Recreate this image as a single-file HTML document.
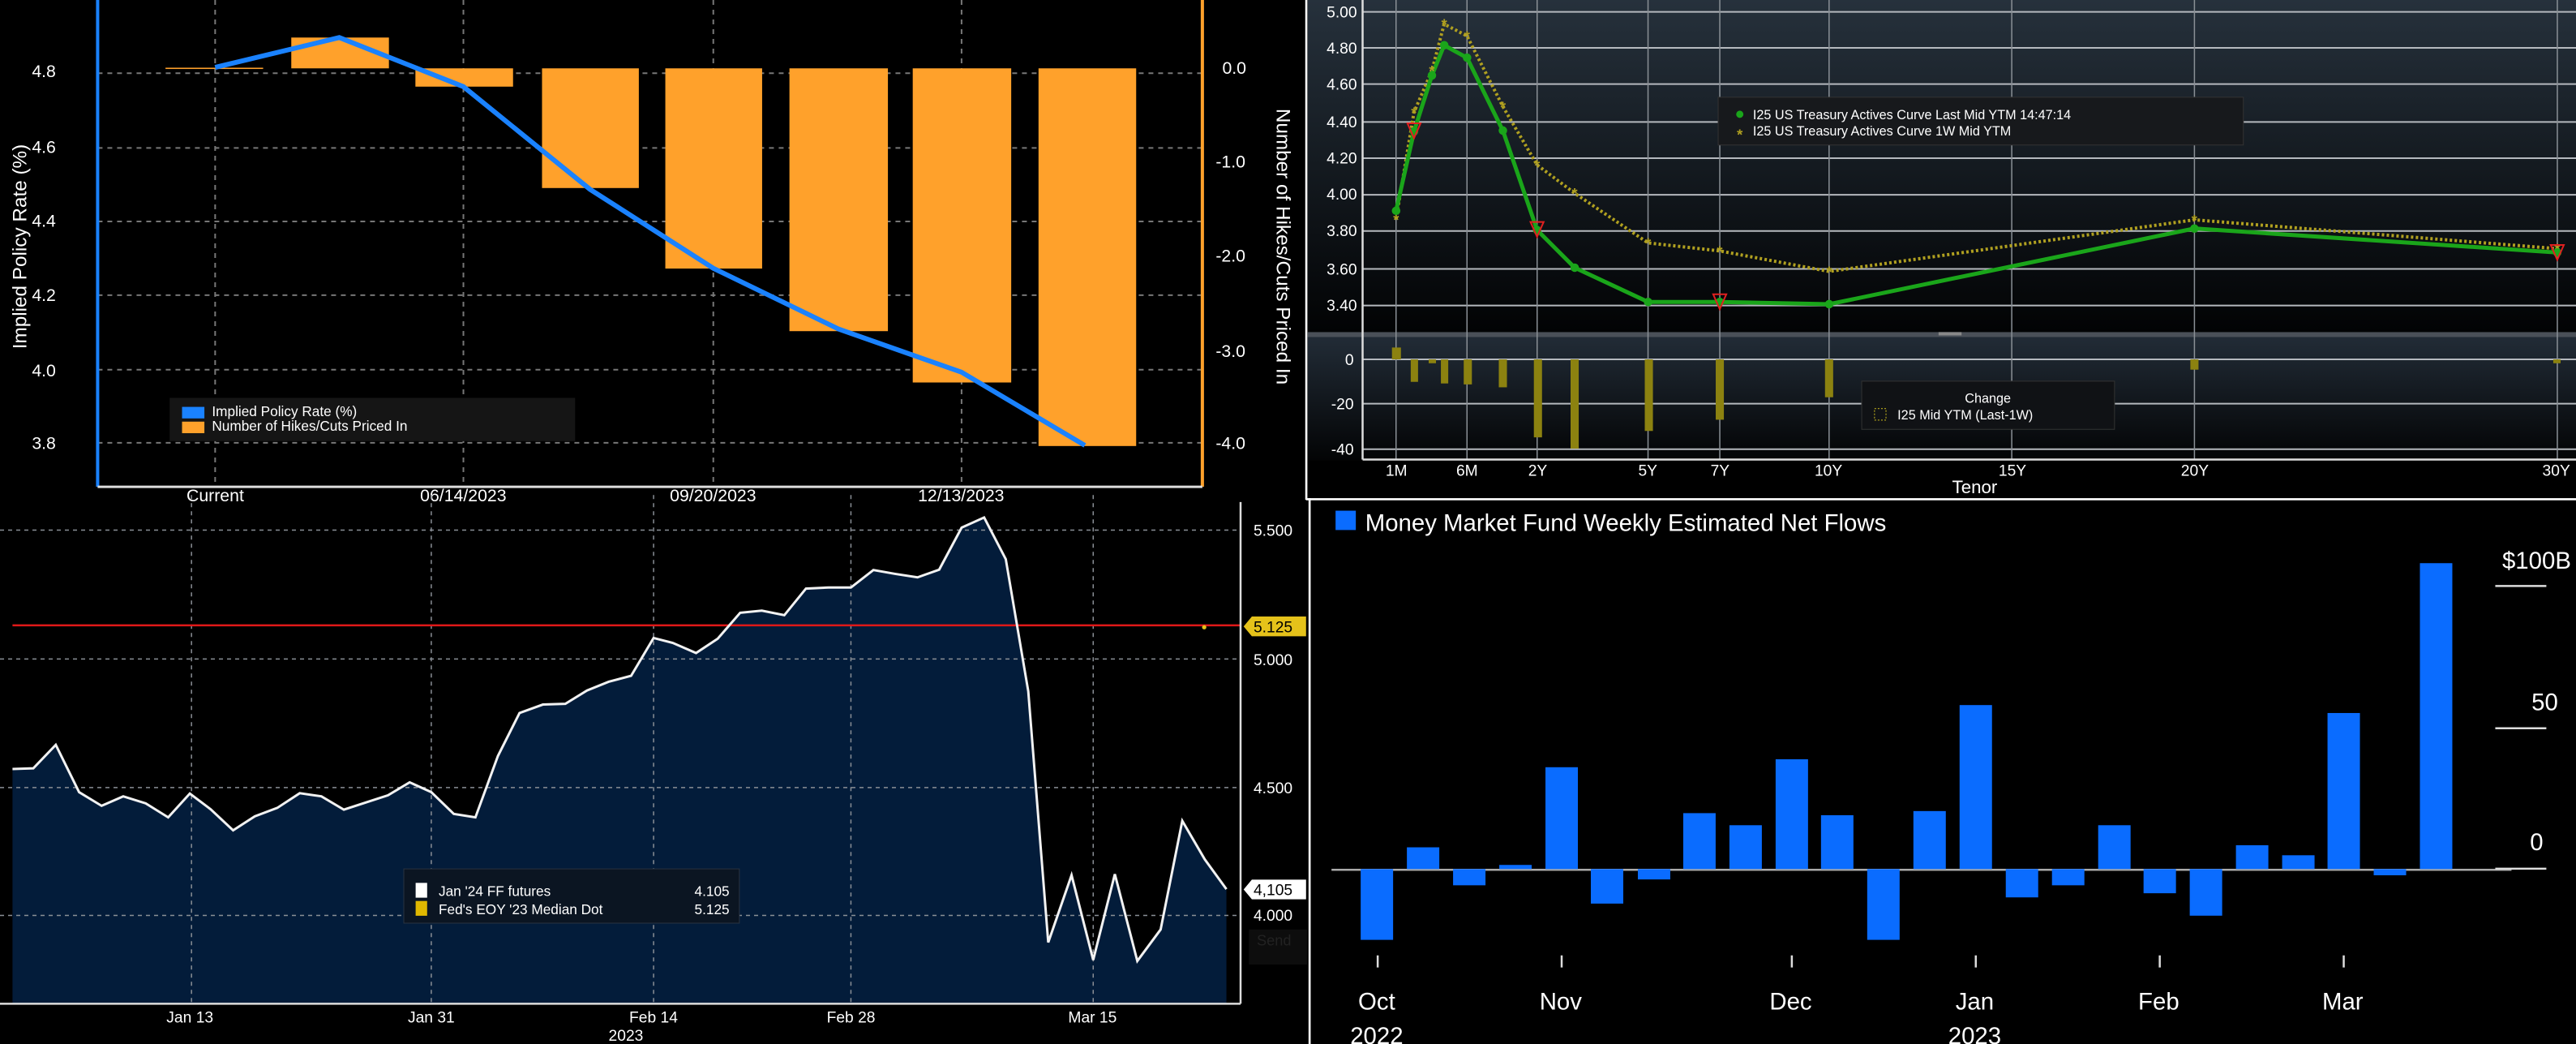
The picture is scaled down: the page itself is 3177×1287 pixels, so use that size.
<!DOCTYPE html>
<html><head><meta charset="utf-8"><style>
html,body{margin:0;padding:0;background:#000;}
svg{display:block;}
text{font-family:"Liberation Sans Narrow","Liberation Sans",sans-serif;}
</style></head><body>
<svg width="3177" height="1287" viewBox="0 0 1568 635" preserveAspectRatio="none" xmlns="http://www.w3.org/2000/svg">
<defs>
<linearGradient id="g1" x1="0" y1="0" x2="0" y2="1"><stop offset="0" stop-color="#26313c"/><stop offset="1" stop-color="#020304"/></linearGradient>
<linearGradient id="g2" x1="0" y1="0" x2="0" y2="1"><stop offset="0" stop-color="#222c37"/><stop offset="1" stop-color="#030405"/></linearGradient>
</defs>
<rect x="0" y="0" width="1568" height="635" fill="#000"/>

<!-- ============ TOP LEFT ============ -->
<g transform="scale(0.5037,0.19517)">
  <g stroke="#777" stroke-width="2" stroke-dasharray="6,6" vector-effect="non-scaling-stroke" fill="none">
    <line x1="118" y1="228" x2="1453" y2="228" vector-effect="non-scaling-stroke"/>
    <line x1="118" y1="461" x2="1453" y2="461" vector-effect="non-scaling-stroke"/>
    <line x1="118" y1="690" x2="1453" y2="690" vector-effect="non-scaling-stroke"/>
    <line x1="118" y1="920" x2="1453" y2="920" vector-effect="non-scaling-stroke"/>
    <line x1="118" y1="1152" x2="1453" y2="1152" vector-effect="non-scaling-stroke"/>
    <line x1="118" y1="1380" x2="1453" y2="1380" vector-effect="non-scaling-stroke"/>
    <line x1="260" y1="0" x2="260" y2="1517" vector-effect="non-scaling-stroke"/>
    <line x1="560" y1="0" x2="560" y2="1517" vector-effect="non-scaling-stroke"/>
    <line x1="862" y1="0" x2="862" y2="1517" vector-effect="non-scaling-stroke"/>
    <line x1="1162" y1="0" x2="1162" y2="1517" vector-effect="non-scaling-stroke"/>
  </g>
  <g fill="#ffa12b">
    <rect x="200" y="211" width="118" height="4"/>
    <rect x="352" y="117" width="118" height="96"/>
    <rect x="502" y="213" width="118" height="57"/>
    <rect x="655" y="213" width="117" height="373"/>
    <rect x="804" y="213" width="117" height="624"/>
    <rect x="954" y="213" width="119" height="819"/>
    <rect x="1103" y="213" width="119" height="979"/>
    <rect x="1255" y="213" width="118" height="1177"/>
  </g>
  <polyline points="260,210 410,117 560,270 713,590 862,836 1013,1025 1162,1160 1311,1388" fill="none" stroke="#1a82ff" stroke-width="6" vector-effect="non-scaling-stroke"/>
  <line x1="118" y1="0" x2="118" y2="1517" stroke="#1a82ff" stroke-width="4" vector-effect="non-scaling-stroke"/>
  <line x1="1453" y1="0" x2="1453" y2="1517" stroke="#ffa12b" stroke-width="4" vector-effect="non-scaling-stroke"/>
  <line x1="118" y1="1517" x2="1453" y2="1517" stroke="#ddd" stroke-width="3" vector-effect="non-scaling-stroke"/>
  <rect x="205" y="1240" width="490" height="135" fill="#151515"/>
  <rect x="220" y="1268" width="27" height="36" fill="#1a82ff"/>
  <rect x="220" y="1314" width="27" height="36" fill="#ffa12b"/>
</g>
<g fill="#fff" font-size="10.5">
  <text x="34" y="47" text-anchor="end">4.8</text>
  <text x="34" y="93" text-anchor="end">4.6</text>
  <text x="34" y="138" text-anchor="end">4.4</text>
  <text x="34" y="183" text-anchor="end">4.2</text>
  <text x="34" y="229" text-anchor="end">4.0</text>
  <text x="34" y="273" text-anchor="end">3.8</text>
  <text x="744" y="45">0.0</text>
  <text x="740" y="102">-1.0</text>
  <text x="740" y="159">-2.0</text>
  <text x="740" y="217">-3.0</text>
  <text x="740" y="273">-4.0</text>
  <text x="131" y="305" text-anchor="middle">Current</text>
  <text x="282" y="305" text-anchor="middle">06/14/2023</text>
  <text x="434" y="305" text-anchor="middle">09/20/2023</text>
  <text x="585" y="305" text-anchor="middle">12/13/2023</text>
  <text x="0" y="0" transform="translate(16,150) rotate(-90)" text-anchor="middle" font-size="12">Implied Policy Rate (%)</text>
  <text x="0" y="0" transform="translate(777,150) rotate(90)" text-anchor="middle" font-size="12">Number of Hikes/Cuts Priced In</text>
  <text x="129" y="253" font-size="8.5">Implied Policy Rate (%)</text>
  <text x="129" y="262" font-size="8.5">Number of Hikes/Cuts Priced In</text>
</g>

<!-- ============ TOP RIGHT ============ -->
<rect x="796" y="0" width="772" height="202" fill="url(#g1)"/>
<rect x="796" y="204" width="772" height="76" fill="url(#g2)"/>
<rect x="796" y="202" width="772" height="3" fill="#4a5058"/>
<rect x="1180" y="202" width="14" height="2" fill="#888"/>
<g transform="translate(789.7,0) scale(0.4964,0.19517)">
  <g stroke="#b5b9be" stroke-width="2" vector-effect="non-scaling-stroke">
    <line x1="80" y1="37" x2="1577" y2="37" vector-effect="non-scaling-stroke"/>
    <line x1="80" y1="149" x2="1577" y2="149" vector-effect="non-scaling-stroke"/>
    <line x1="80" y1="262" x2="1577" y2="262" vector-effect="non-scaling-stroke"/>
    <line x1="80" y1="380" x2="1577" y2="380" vector-effect="non-scaling-stroke"/>
    <line x1="80" y1="493" x2="1577" y2="493" vector-effect="non-scaling-stroke"/>
    <line x1="80" y1="607" x2="1577" y2="607" vector-effect="non-scaling-stroke"/>
    <line x1="80" y1="720" x2="1577" y2="720" vector-effect="non-scaling-stroke"/>
    <line x1="80" y1="838" x2="1577" y2="838" vector-effect="non-scaling-stroke"/>
    <line x1="80" y1="952" x2="1577" y2="952" vector-effect="non-scaling-stroke"/>
    <line x1="80" y1="1120" x2="1577" y2="1120" vector-effect="non-scaling-stroke"/>
    <line x1="80" y1="1258" x2="1577" y2="1258" vector-effect="non-scaling-stroke"/>
    <line x1="80" y1="1400" x2="1577" y2="1400" vector-effect="non-scaling-stroke"/>
  </g>
  <g stroke="#8a9096" stroke-width="1.5" vector-effect="non-scaling-stroke">
    <line x1="121" y1="0" x2="121" y2="1432" vector-effect="non-scaling-stroke"/>
    <line x1="208" y1="0" x2="208" y2="1432" vector-effect="non-scaling-stroke"/>
    <line x1="294" y1="0" x2="294" y2="1432" vector-effect="non-scaling-stroke"/>
    <line x1="430" y1="0" x2="430" y2="1432" vector-effect="non-scaling-stroke"/>
    <line x1="518" y1="0" x2="518" y2="1432" vector-effect="non-scaling-stroke"/>
    <line x1="652" y1="0" x2="652" y2="1432" vector-effect="non-scaling-stroke"/>
    <line x1="876" y1="0" x2="876" y2="1432" vector-effect="non-scaling-stroke"/>
    <line x1="1100" y1="0" x2="1100" y2="1432" vector-effect="non-scaling-stroke"/>
    <line x1="1545" y1="0" x2="1545" y2="1432" vector-effect="non-scaling-stroke"/>
  </g>
  <polyline points="121,683 143,350 165,220 180,75 208,112 252,332 294,514 340,602 430,757 518,782 652,846 1100,685 1545,775" fill="none" stroke="#b0a020" stroke-width="4" stroke-dasharray="3,3" vector-effect="non-scaling-stroke"/>
  <polyline points="121,657 143,410 165,235 180,141 208,180 252,407 294,717 340,834 430,941 518,941 652,948 1100,712 1545,787" fill="none" stroke="#1aa51a" stroke-width="5" vector-effect="non-scaling-stroke"/>
  <g fill="#8c8210">
    <rect x="116" y="1083" width="11" height="37"/>
    <rect x="139" y="1120" width="9" height="70"/>
    <rect x="161" y="1120" width="9" height="12"/>
    <rect x="176" y="1120" width="9" height="75"/>
    <rect x="204" y="1120" width="10" height="78"/>
    <rect x="247" y="1120" width="10" height="87"/>
    <rect x="290" y="1120" width="10" height="243"/>
    <rect x="335" y="1120" width="10" height="278"/>
    <rect x="426" y="1120" width="10" height="223"/>
    <rect x="513" y="1120" width="10" height="188"/>
    <rect x="647" y="1120" width="10" height="118"/>
    <rect x="1095" y="1120" width="10" height="32"/>
    <rect x="1540" y="1120" width="9" height="12"/>
  </g>
  <line x1="80" y1="0" x2="80" y2="1432" stroke="#ddd" stroke-width="2.5" vector-effect="non-scaling-stroke"/>
  <line x1="80" y1="1432" x2="1577" y2="1432" stroke="#ddd" stroke-width="2.5" vector-effect="non-scaling-stroke"/>
  <rect x="516" y="303" width="644" height="149" fill="#17191c" stroke="#333" vector-effect="non-scaling-stroke"/>
  <rect x="692" y="1188" width="310" height="150" fill="#101215" stroke="#333" vector-effect="non-scaling-stroke"/>
</g>
<g fill="#b0a020" font-size="9" text-anchor="middle" font-weight="bold">
  <text x="849.8" y="136.8">*</text><text x="860.7" y="71.8">*</text><text x="871.6" y="46.4">*</text><text x="879.1" y="18.1">*</text><text x="893" y="25.4">*</text><text x="914.8" y="68.3">*</text><text x="935.6" y="103.8">*</text><text x="958.5" y="121">*</text><text x="1003.2" y="151.2">*</text><text x="1046.8" y="156.1">*</text><text x="1113.4" y="168.6">*</text><text x="1335.7" y="137.2">*</text><text x="1556.6" y="154.8">*</text>
  <text x="1059" y="85">*</text>
</g>
<g fill="#1aa51a">
  <circle cx="849.8" cy="128.2" r="2.6"/><circle cx="860.7" cy="80" r="2.6"/><circle cx="871.6" cy="45.9" r="2.6"/><circle cx="879.1" cy="27.5" r="2.6"/><circle cx="893" cy="35.1" r="2.6"/><circle cx="914.8" cy="79.4" r="2.6"/><circle cx="935.6" cy="139.9" r="2.6"/><circle cx="958.5" cy="162.8" r="2.6"/><circle cx="1003.2" cy="183.7" r="2.6"/><circle cx="1046.8" cy="183.7" r="2.6"/><circle cx="1113.4" cy="185" r="2.6"/><circle cx="1335.7" cy="139" r="2.6"/><circle cx="1556.6" cy="153.6" r="2.6"/>
  <circle cx="1059" cy="69.5" r="2.2"/>
</g>
<g fill="none" stroke="#e02020" stroke-width="1">
  <path d="M856.7,75 L864.7,75 L860.7,84 Z"/>
  <path d="M931.6,135 L939.6,135 L935.6,144 Z"/>
  <path d="M1042.8,179 L1050.8,179 L1046.8,188 Z"/>
  <path d="M1552.6,149 L1560.6,149 L1556.6,158 Z"/>
</g>
<g fill="#fff" font-size="9.5">
  <text x="826" y="10.5" text-anchor="end">5.00</text>
  <text x="826" y="32.5" text-anchor="end">4.80</text>
  <text x="826" y="54.5" text-anchor="end">4.60</text>
  <text x="826" y="77.5" text-anchor="end">4.40</text>
  <text x="826" y="99.5" text-anchor="end">4.20</text>
  <text x="826" y="121.5" text-anchor="end">4.00</text>
  <text x="826" y="143.5" text-anchor="end">3.80</text>
  <text x="826" y="167" text-anchor="end">3.60</text>
  <text x="826" y="189" text-anchor="end">3.40</text>
  <text x="824" y="222" text-anchor="end">0</text>
  <text x="824" y="249" text-anchor="end">-20</text>
  <text x="824" y="276.5" text-anchor="end">-40</text>
  <text x="850" y="289.5" text-anchor="middle">1M</text>
  <text x="893" y="289.5" text-anchor="middle">6M</text>
  <text x="936" y="289.5" text-anchor="middle">2Y</text>
  <text x="1003" y="289.5" text-anchor="middle">5Y</text>
  <text x="1047" y="289.5" text-anchor="middle">7Y</text>
  <text x="1113" y="289.5" text-anchor="middle">10Y</text>
  <text x="1225" y="289.5" text-anchor="middle">15Y</text>
  <text x="1336" y="289.5" text-anchor="middle">20Y</text>
  <text x="1556" y="289.5" text-anchor="middle">30Y</text>
  <text x="1202" y="300" text-anchor="middle" font-size="11">Tenor</text>
  <text x="1067" y="72.5" font-size="8">I25 US Treasury Actives Curve Last Mid YTM 14:47:14</text>
  <text x="1067" y="82.5" font-size="8">I25 US Treasury Actives Curve 1W Mid YTM</text>
  <text x="1210" y="245" text-anchor="middle" font-size="8">Change</text>
  <text x="1155" y="255" font-size="8">I25 Mid YTM (Last-1W)</text>
</g>
<rect x="1141" y="248.5" width="7" height="7" fill="none" stroke="#a89a1c" stroke-width="0.6" stroke-dasharray="1,1"/>

<!-- ============ BOTTOM LEFT ============ -->
<g transform="translate(0,301.1) scale(0.5068,0.2131)">
  <polygon points="15,782 40,780 67,713 95,848 122,887 148,860 175,880 202,920 228,852 253,897 280,957 306,917 333,893 360,851 386,860 413,898 440,877 466,857 492,820 518,848 545,910 571,920 598,745 624,622 652,598 679,596 705,558 731,533 758,516 785,408 808,422 836,451 862,410 889,336 915,330 942,343 968,267 995,264 1022,264 1049,214 1075,225 1102,235 1128,213 1155,93 1182,64 1208,183 1235,560 1259,1277 1287,1085 1313,1327 1339,1082 1366,1330 1394,1240 1420,930 1447,1040 1473,1125 1473,1452 15,1452" fill="#031c3a"/>
  <g stroke="#8a8f96" stroke-width="1.5" stroke-dasharray="5,5" vector-effect="non-scaling-stroke">
    <line x1="0" y1="100" x2="1490" y2="100" vector-effect="non-scaling-stroke"/>
    <line x1="0" y1="468" x2="1490" y2="468" vector-effect="non-scaling-stroke"/>
    <line x1="0" y1="835" x2="1490" y2="835" vector-effect="non-scaling-stroke"/>
    <line x1="0" y1="1200" x2="1490" y2="1200" vector-effect="non-scaling-stroke"/>
    <line x1="230" y1="0" x2="230" y2="1452" vector-effect="non-scaling-stroke"/>
    <line x1="518" y1="0" x2="518" y2="1452" vector-effect="non-scaling-stroke"/>
    <line x1="785" y1="0" x2="785" y2="1452" vector-effect="non-scaling-stroke"/>
    <line x1="1022" y1="0" x2="1022" y2="1452" vector-effect="non-scaling-stroke"/>
    <line x1="1313" y1="0" x2="1313" y2="1452" vector-effect="non-scaling-stroke"/>
  </g>
  <line x1="15" y1="372" x2="1490" y2="372" stroke="#e01818" stroke-width="2.5" vector-effect="non-scaling-stroke"/>
  <polyline points="15,782 40,780 67,713 95,848 122,887 148,860 175,880 202,920 228,852 253,897 280,957 306,917 333,893 360,851 386,860 413,898 440,877 466,857 492,820 518,848 545,910 571,920 598,745 624,622 652,598 679,596 705,558 731,533 758,516 785,408 808,422 836,451 862,410 889,336 915,330 942,343 968,267 995,264 1022,264 1049,214 1075,225 1102,235 1128,213 1155,93 1182,64 1208,183 1235,560 1259,1277 1287,1085 1313,1327 1339,1082 1366,1330 1394,1240 1420,930 1447,1040 1473,1125" fill="none" stroke="#f2f2f2" stroke-width="3" vector-effect="non-scaling-stroke"/>
  <line x1="1490" y1="20" x2="1490" y2="1452" stroke="#ddd" stroke-width="2.5" vector-effect="non-scaling-stroke"/>
  <line x1="0" y1="1452" x2="1490" y2="1452" stroke="#ddd" stroke-width="2.5" vector-effect="non-scaling-stroke"/>
  <rect x="485" y="1067" width="403" height="155" fill="#0b1522" stroke="#2a3340" vector-effect="non-scaling-stroke"/>
  <rect x="1500" y="1240" width="70" height="100" fill="#0d0d0d"/>
</g>
<g fill="#fff" font-size="9.5">
  <text x="763" y="326">5.500</text>
  <text x="763" y="404.5">5.000</text>
  <text x="763" y="482.5">4.500</text>
  <text x="763" y="560">4.000</text>
  <text x="115.6" y="622" text-anchor="middle">Jan 13</text>
  <text x="262.5" y="622" text-anchor="middle">Jan 31</text>
  <text x="397.8" y="622" text-anchor="middle">Feb 14</text>
  <text x="518" y="622" text-anchor="middle">Feb 28</text>
  <text x="665" y="622" text-anchor="middle">Mar 15</text>
  <text x="381" y="633" text-anchor="middle">2023</text>
  <text x="267" y="545" font-size="8.5">Jan '24 FF futures</text>
  <text x="267" y="556" font-size="8.5">Fed's EOY '23 Median Dot</text>
  <text x="444" y="545" font-size="8.5" text-anchor="end">4.105</text>
  <text x="444" y="556" font-size="8.5" text-anchor="end">5.125</text>
</g>
<rect x="253" y="537" width="7" height="9" fill="#fff"/>
<rect x="253" y="548" width="7" height="9" fill="#e0b800"/>
<path d="M757,381 L762,375 L795,375 L795,387 L762,387 Z" fill="#e5c21a"/>
<text x="763" y="384.5" font-size="9.5" fill="#000">5.125</text>
<circle cx="733" cy="381.5" r="1.3" fill="#e5c21a"/>
<path d="M757,541 L762,535 L795,535 L795,547 L762,547 Z" fill="#fff"/>
<text x="763" y="544.5" font-size="9.5" fill="#000">4,105</text>
<text x="765" y="575" font-size="9" fill="#222">Send</text>

<!-- ============ BOTTOM RIGHT ============ -->
<g transform="translate(794.7,306) scale(0.4933,0.21)">
  <line x1="32" y1="1062" x2="1488" y2="1062" stroke="#aaa" stroke-width="2.5" vector-effect="non-scaling-stroke"/>
  <g fill="#0a6cff">
    <rect x="68" y="1060" width="40" height="205"/>
    <rect x="125" y="997" width="40" height="63"/>
    <rect x="182" y="1060" width="40" height="47"/>
    <rect x="239" y="1048" width="40" height="12"/>
    <rect x="296" y="765" width="40" height="295"/>
    <rect x="352" y="1060" width="40" height="100"/>
    <rect x="410" y="1060" width="40" height="30"/>
    <rect x="466" y="898" width="40" height="162"/>
    <rect x="523" y="933" width="40" height="127"/>
    <rect x="580" y="742" width="40" height="318"/>
    <rect x="636" y="904" width="40" height="156"/>
    <rect x="693" y="1060" width="40" height="205"/>
    <rect x="750" y="892" width="40" height="168"/>
    <rect x="807" y="585" width="40" height="475"/>
    <rect x="864" y="1060" width="40" height="82"/>
    <rect x="921" y="1060" width="40" height="47"/>
    <rect x="978" y="933" width="40" height="127"/>
    <rect x="1034" y="1060" width="40" height="70"/>
    <rect x="1091" y="1060" width="40" height="135"/>
    <rect x="1148" y="991" width="40" height="69"/>
    <rect x="1205" y="1020" width="40" height="40"/>
    <rect x="1261" y="608" width="40" height="452"/>
    <rect x="1318" y="1060" width="40" height="18"/>
    <rect x="1375" y="174" width="40" height="886"/>
    <rect x="37" y="22" width="25" height="56"/>
  </g>
  <g stroke="#ddd" stroke-width="2.5" vector-effect="non-scaling-stroke">
    <line x1="1468" y1="240" x2="1531" y2="240" vector-effect="non-scaling-stroke"/>
    <line x1="1468" y1="652" x2="1531" y2="652" vector-effect="non-scaling-stroke"/>
    <line x1="1468" y1="1059" x2="1531" y2="1059" vector-effect="non-scaling-stroke"/>
    <line x1="89" y1="1310" x2="89" y2="1345" vector-effect="non-scaling-stroke"/>
    <line x1="316" y1="1310" x2="316" y2="1345" vector-effect="non-scaling-stroke"/>
    <line x1="600" y1="1310" x2="600" y2="1345" vector-effect="non-scaling-stroke"/>
    <line x1="827" y1="1310" x2="827" y2="1345" vector-effect="non-scaling-stroke"/>
    <line x1="1054" y1="1310" x2="1054" y2="1345" vector-effect="non-scaling-stroke"/>
    <line x1="1281" y1="1310" x2="1281" y2="1345" vector-effect="non-scaling-stroke"/>
  </g>
</g>
<g fill="#fff" font-size="14.5">
  <text x="831" y="323">Money Market Fund Weekly Estimated Net Flows</text>
  <text x="1565" y="346" text-anchor="end">$100B</text>
  <text x="1549" y="432" text-anchor="middle">50</text>
  <text x="1544" y="517" text-anchor="middle">0</text>
  <text x="838" y="614" text-anchor="middle">Oct</text>
  <text x="950" y="614" text-anchor="middle">Nov</text>
  <text x="1090" y="614" text-anchor="middle">Dec</text>
  <text x="1202" y="614" text-anchor="middle">Jan</text>
  <text x="1314" y="614" text-anchor="middle">Feb</text>
  <text x="1426" y="614" text-anchor="middle">Mar</text>
  <text x="838" y="635" text-anchor="middle">2022</text>
  <text x="1202" y="635" text-anchor="middle">2023</text>
</g>

<!-- dividers -->
<rect x="794.5" y="0" width="1.3" height="304" fill="#fff"/>
<rect x="795" y="303" width="773" height="1.3" fill="#fff"/>
<rect x="796.5" y="303" width="1.3" height="332" fill="#fff"/>
</svg>
</body></html>
